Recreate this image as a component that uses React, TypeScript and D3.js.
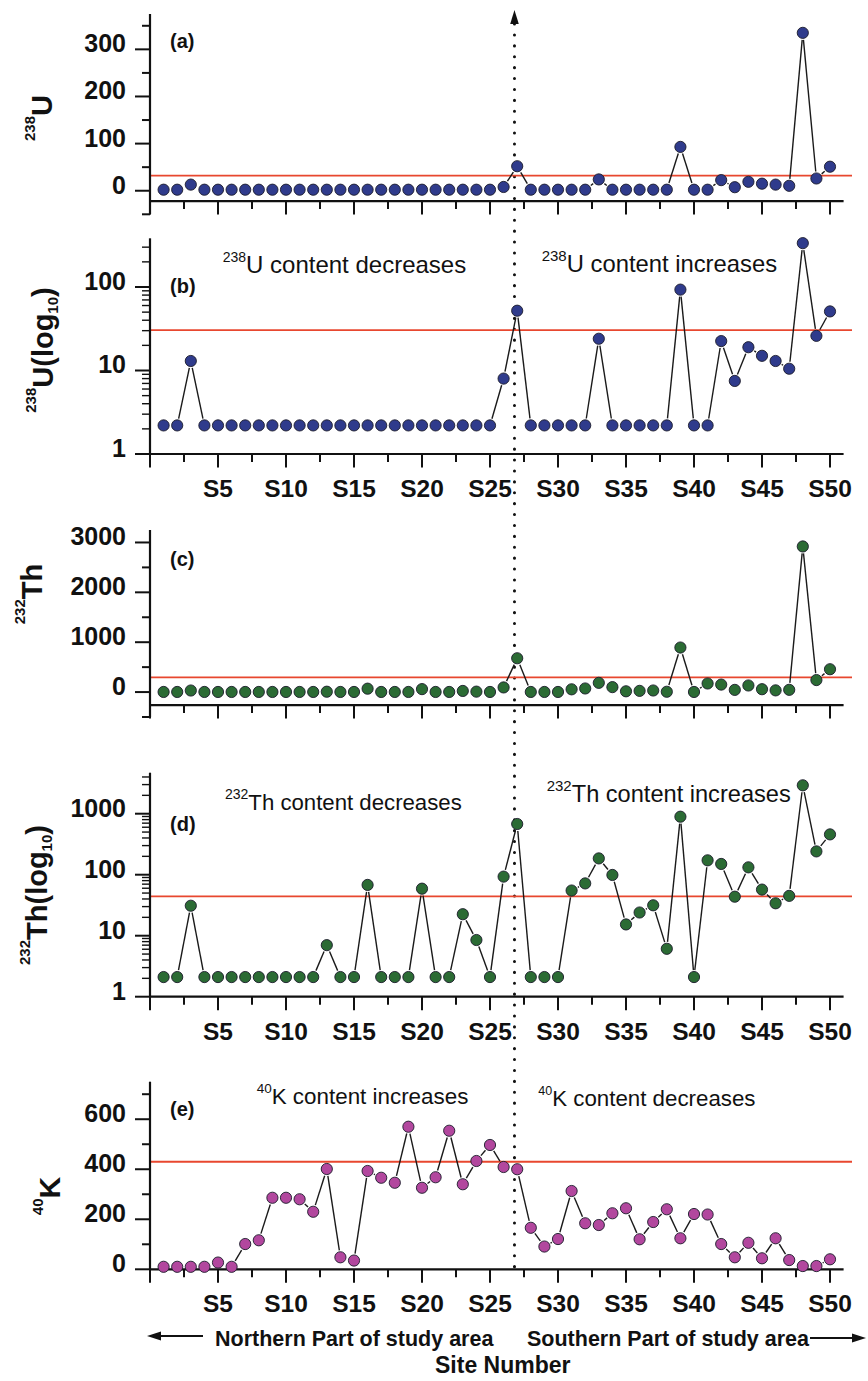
import React from "react";
import * as d3 from "d3";

// ---- Data ----
const siteNumbers = [
  1, 2, 3, 4, 5, 6, 7, 8, 9, 10, 11, 12, 13, 14, 15, 16, 17, 18, 19, 20, 21, 22, 23, 24, 25,
  26, 27, 28, 29, 30, 31, 32, 33, 34, 35, 36, 37, 38, 39, 40, 41, 42, 43, 44, 45, 46, 47, 48, 49, 50,
];

const u238 = [
  2.2, 2.2, 13, 2.2, 2.2, 2.2, 2.2, 2.2, 2.2, 2.2, 2.2, 2.2, 2.2, 2.2, 2.2, 2.2, 2.2, 2.2, 2.2, 2.2,
  2.2, 2.2, 2.2, 2.2, 2.2, 8, 52, 2.2, 2.2, 2.2, 2.2, 2.2, 24, 2.2, 2.2, 2.2, 2.2, 2.2, 93, 2.2,
  2.2, 22.5, 7.5, 19, 15, 13, 10.5, 335, 26, 51,
];

const th232 = [
  2.1, 2.1, 31, 2.1, 2.1, 2.1, 2.1, 2.1, 2.1, 2.1, 2.1, 2.1, 7, 2.1, 2.1, 68, 2.1, 2.1, 2.1, 59,
  2.1, 2.1, 22.5, 8.5, 2.1, 93, 678, 2.1, 2.1, 2.1, 55, 72, 185, 99, 15.3, 24, 31.5, 6.1, 893, 2.1,
  172, 150, 43.6, 132, 57, 34, 45, 2920, 241, 458,
];

const k40 = [
  10, 10, 10, 10, 27, 10, 101, 116, 286, 286, 280, 230, 401, 48, 35, 393, 366, 346, 570, 326,
  368, 554, 340, 433, 497, 409, 400, 166, 91, 121, 313, 184, 177, 224, 244, 120, 189, 240, 124, 221,
  219, 101, 48, 106, 44, 124, 37, 13, 13, 40,
];

const refValues = [32, 30.5, 295, 44, 430];
const panelLetters = ["(a)", "(b)", "(c)", "(d)", "(e)"];
const xTickValues = [0, 2.5, 5, 7.5, 10, 12.5, 15, 17.5, 20, 22.5, 25, 27.5, 30, 32.5, 35, 37.5, 40, 42.5, 45, 47.5, 50];
const xTickLabels = ["", "", "S5", "", "S10", "", "S15", "", "S20", "", "S25", "", "S30", "", "S35", "", "S40", "", "S45", "", "S50"];
const linearTicksA = [0, 100, 200, 300];
const linearTicksC = [0, 1000, 2000, 3000];
const linearTicksE = [0, 200, 400, 600];
const minorTicksA = [-50, 50, 150, 250, 350];
const minorTicksC = [-500, 500, 1500, 2500];
const minorTicksE = [100, 300, 500, 700];
const dividerSite = 26.8;

const FONT = "'Liberation Sans', Arial, Helvetica, sans-serif";
const RED = "#e8472f";

const x = d3.scaleLinear().domain([0, 51]).range([150, 843.6]);

type Panel = {
  values: number[];
  color: string;
  y: any;
  log: boolean;
  xAxisAt: number;
  majors: number[];
  minors: number[];
  showXLabels: boolean;
  labelY: number;
};

function logMinors(dom: number[]) {
  const out: number[] = [];
  for (let p = 1; p <= 1000; p *= 10) {
    for (let k = 2; k <= 9; k++) {
      const v = k * p;
      if (v >= dom[0] && v <= dom[1]) out.push(v);
    }
  }
  return out;
}

const yA = d3.scaleLinear().domain([-50, 375]).range([214.3, 14]);
const yB = d3.scaleLog().domain([1, 383]).range([454, 238.3]);
const yC = d3.scaleLinear().domain([-500, 3250]).range([717, 530]);
const yD = d3.scaleLog().domain([1, 4700]).range([996.7, 772.7]);
const yE = d3.scaleLinear().domain([0, 750]).range([1269.3, 1081.7]);

const panels: Panel[] = [
  { values: u238, color: "#2f3b8c", y: yA, log: false, xAxisAt: yA(-22), majors: linearTicksA, minors: minorTicksA, showXLabels: false, labelY: 47.5 },
  { values: u238, color: "#2f3b8c", y: yB, log: true, xAxisAt: yB(1), majors: [1, 10, 100], minors: logMinors([1, 383]), showXLabels: true, labelY: 292.5 },
  { values: th232, color: "#2b6b34", y: yC, log: false, xAxisAt: yC(-260), majors: linearTicksC, minors: minorTicksC, showXLabels: false, labelY: 566 },
  { values: th232, color: "#2b6b34", y: yD, log: true, xAxisAt: yD(1), majors: [1, 10, 100, 1000], minors: logMinors([1, 4700]), showXLabels: true, labelY: 831 },
  { values: k40, color: "#b2479e", y: yE, log: false, xAxisAt: yE(0), majors: linearTicksE, minors: minorTicksE, showXLabels: true, labelY: 1116 },
];

function Segments({ values, y }: { values: number[]; y: any }) {
  const gap = 7;
  const segs: React.ReactElement[] = [];
  for (let i = 0; i < values.length - 1; i++) {
    const x1 = x(siteNumbers[i]);
    const y1 = y(values[i]);
    const x2 = x(siteNumbers[i + 1]);
    const y2 = y(values[i + 1]);
    const dx = x2 - x1;
    const dy = y2 - y1;
    const len = Math.sqrt(dx * dx + dy * dy);
    if (len <= 2 * gap + 1) continue;
    const ux = dx / len;
    const uy = dy / len;
    segs.push(
      <line key={i} x1={x1 + ux * gap} y1={y1 + uy * gap} x2={x2 - ux * gap} y2={y2 - uy * gap} stroke="#1a1a1a" strokeWidth={1.4} />
    );
  }
  return <g>{segs}</g>;
}

function PanelView({ p, idx }: { p: Panel; idx: number }) {
  const [d0, d1] = p.y.domain();
  const yBottom = p.y(d0);
  const yTop = p.y(d1);
  return (
    <g>
      {/* reference line */}
      <line x1={150} x2={852} y1={p.y(refValues[idx])} y2={p.y(refValues[idx])} stroke={RED} strokeWidth={1.8} />
      {/* y axis */}
      <line x1={150} x2={150} y1={yBottom} y2={yTop} stroke="#111" strokeWidth={2.2} />
      {p.majors.map((v) => (
        <g key={"M" + v}>
          <line x1={135} x2={150} y1={p.y(v)} y2={p.y(v)} stroke="#111" strokeWidth={2} />
          <text x={126} y={p.y(v) + 3} textAnchor="end" fontFamily={FONT} fontWeight="bold" fontSize={25} fill="#111">
            {v}
          </text>
        </g>
      ))}
      {p.minors.map((v) => (
        <line key={"m" + v} x1={142} x2={150} y1={p.y(v)} y2={p.y(v)} stroke="#111" strokeWidth={p.log ? 1.4 : 2} />
      ))}
      {/* x axis */}
      <line x1={149} x2={843.6} y1={p.xAxisAt} y2={p.xAxisAt} stroke="#111" strokeWidth={2.2} />
      {xTickValues.map((v, i) => {
        const major = v % 5 === 0;
        return (
          <g key={"x" + v}>
            <line x1={x(v)} x2={x(v)} y1={p.xAxisAt} y2={p.xAxisAt + (major ? 13.5 : 8)} stroke="#111" strokeWidth={2} />
            {p.showXLabels && xTickLabels[i] ? (
              <text x={x(v)} y={p.xAxisAt + 43} textAnchor="middle" fontFamily={FONT} fontWeight="bold" fontSize={24.5} fill="#111">
                {xTickLabels[i]}
              </text>
            ) : null}
          </g>
        );
      })}
      {/* panel letter */}
      <text x={170} y={p.labelY} fontFamily={FONT} fontWeight="bold" fontSize={20} fill="#111">
        {panelLetters[idx]}
      </text>
      {/* series */}
      <Segments values={p.values} y={p.y} />
      {p.values.map((v, i) => (
        <circle key={"c" + i} cx={x(siteNumbers[i])} cy={p.y(v)} r={5.6} fill={p.color} stroke="#1b1b2a" strokeWidth={0.9} />
      ))}
    </g>
  );
}

function YTitle({ tx, ty, sup, main, sub, size }: { tx: number; ty: number; sup: string; main: string; sub?: boolean; size: number }) {
  return (
    <text transform={`translate(${tx},${ty}) rotate(-90)`} textAnchor="middle" fontFamily={FONT} fontWeight="bold" fill="#111">
      <tspan fontSize={15} dy={-17}>{sup}</tspan>
      <tspan fontSize={size} dy={17}>{sub ? main + "(log" : main}</tspan>
      {sub ? (
        <>
          <tspan fontSize={15} dy={5}>10</tspan>
          <tspan fontSize={size} dy={-5}>)</tspan>
        </>
      ) : null}
    </text>
  );
}

function Note({ x0, yb, sup, supSize, supDy, text, size }: { x0: number; yb: number; sup: string; supSize: number; supDy: number; text: string; size: number }) {
  return (
    <text x={x0} y={yb} fontFamily={FONT} fontSize={size} fill="#111">
      <tspan fontSize={supSize} dy={-supDy}>{sup}</tspan>
      <tspan dy={supDy}>{text}</tspan>
    </text>
  );
}

export default function App() {
  const dx = x(dividerSite);
  return (
    <svg width={868} height={1381} style={{ position: "absolute", left: 0, top: 0, display: "block", background: "#fff" }}>
      <rect x={0} y={0} width={868} height={1381} fill="#fff" />
      {/* dotted divider with arrow */}
      <line x1={dx} x2={dx} y1={24} y2={1267} stroke="#111" strokeWidth={3} strokeLinecap="round" strokeDasharray="0.1 10.8" />
      <polygon points={`${dx},10 ${dx - 4.3},24 ${dx + 4.3},24`} fill="#111" />

      {panels.map((p, i) => (
        <PanelView key={i} p={p} idx={i} />
      ))}

      {/* y titles */}
      <YTitle tx={52} ty={118} sup="238" main="U" size={29} />
      <YTitle tx={53} ty={350} sup="238" main="U" sub size={29} />
      <YTitle tx={42} ty={594} sup="232" main="Th" size={29} />
      <YTitle tx={47} ty={895} sup="232" main="Th" sub size={29} />
      <YTitle tx={60} ty={1196} sup="40" main="K" size={30} />

      {/* annotations */}
      <Note x0={222.7} yb={272.7} sup="238" supSize={14} supDy={11} text="U content decreases" size={24} />
      <Note x0={541.7} yb={272} sup="238" supSize={15} supDy={11} text="U content increases" size={23.8} />
      <Note x0={225} yb={810} sup="232" supSize={14} supDy={11} text="Th content decreases" size={22.2} />
      <Note x0={546.7} yb={801.7} sup="232" supSize={15} supDy={11} text="Th content increases" size={23.6} />
      <Note x0={256.7} yb={1104} sup="40" supSize={13.5} supDy={11} text="K content increases" size={22.4} />
      <Note x0={538.3} yb={1106} sup="40" supSize={12.5} supDy={11} text="K content decreases" size={22.3} />

      {/* bottom direction labels */}
      <line x1={158} x2={203} y1={1336} y2={1336} stroke="#111" strokeWidth={1.8} />
      <polygon points="147,1336 161,1331.5 161,1340.5" fill="#111" />
      <text x={215} y={1346} fontFamily={FONT} fontWeight="bold" fontSize={21.5} fill="#111">
        Northern Part of study area
      </text>
      <text x={527} y={1346} fontFamily={FONT} fontWeight="bold" fontSize={21.5} fill="#111">
        Southern Part of study area
      </text>
      <line x1={810} x2={855} y1={1338} y2={1338} stroke="#111" strokeWidth={1.8} />
      <polygon points="866,1338 852,1333.5 852,1342.5" fill="#111" />
      <text x={435} y={1373} fontFamily={FONT} fontWeight="bold" fontSize={23} fill="#111">
        Site Number
      </text>
    </svg>
  );
}
